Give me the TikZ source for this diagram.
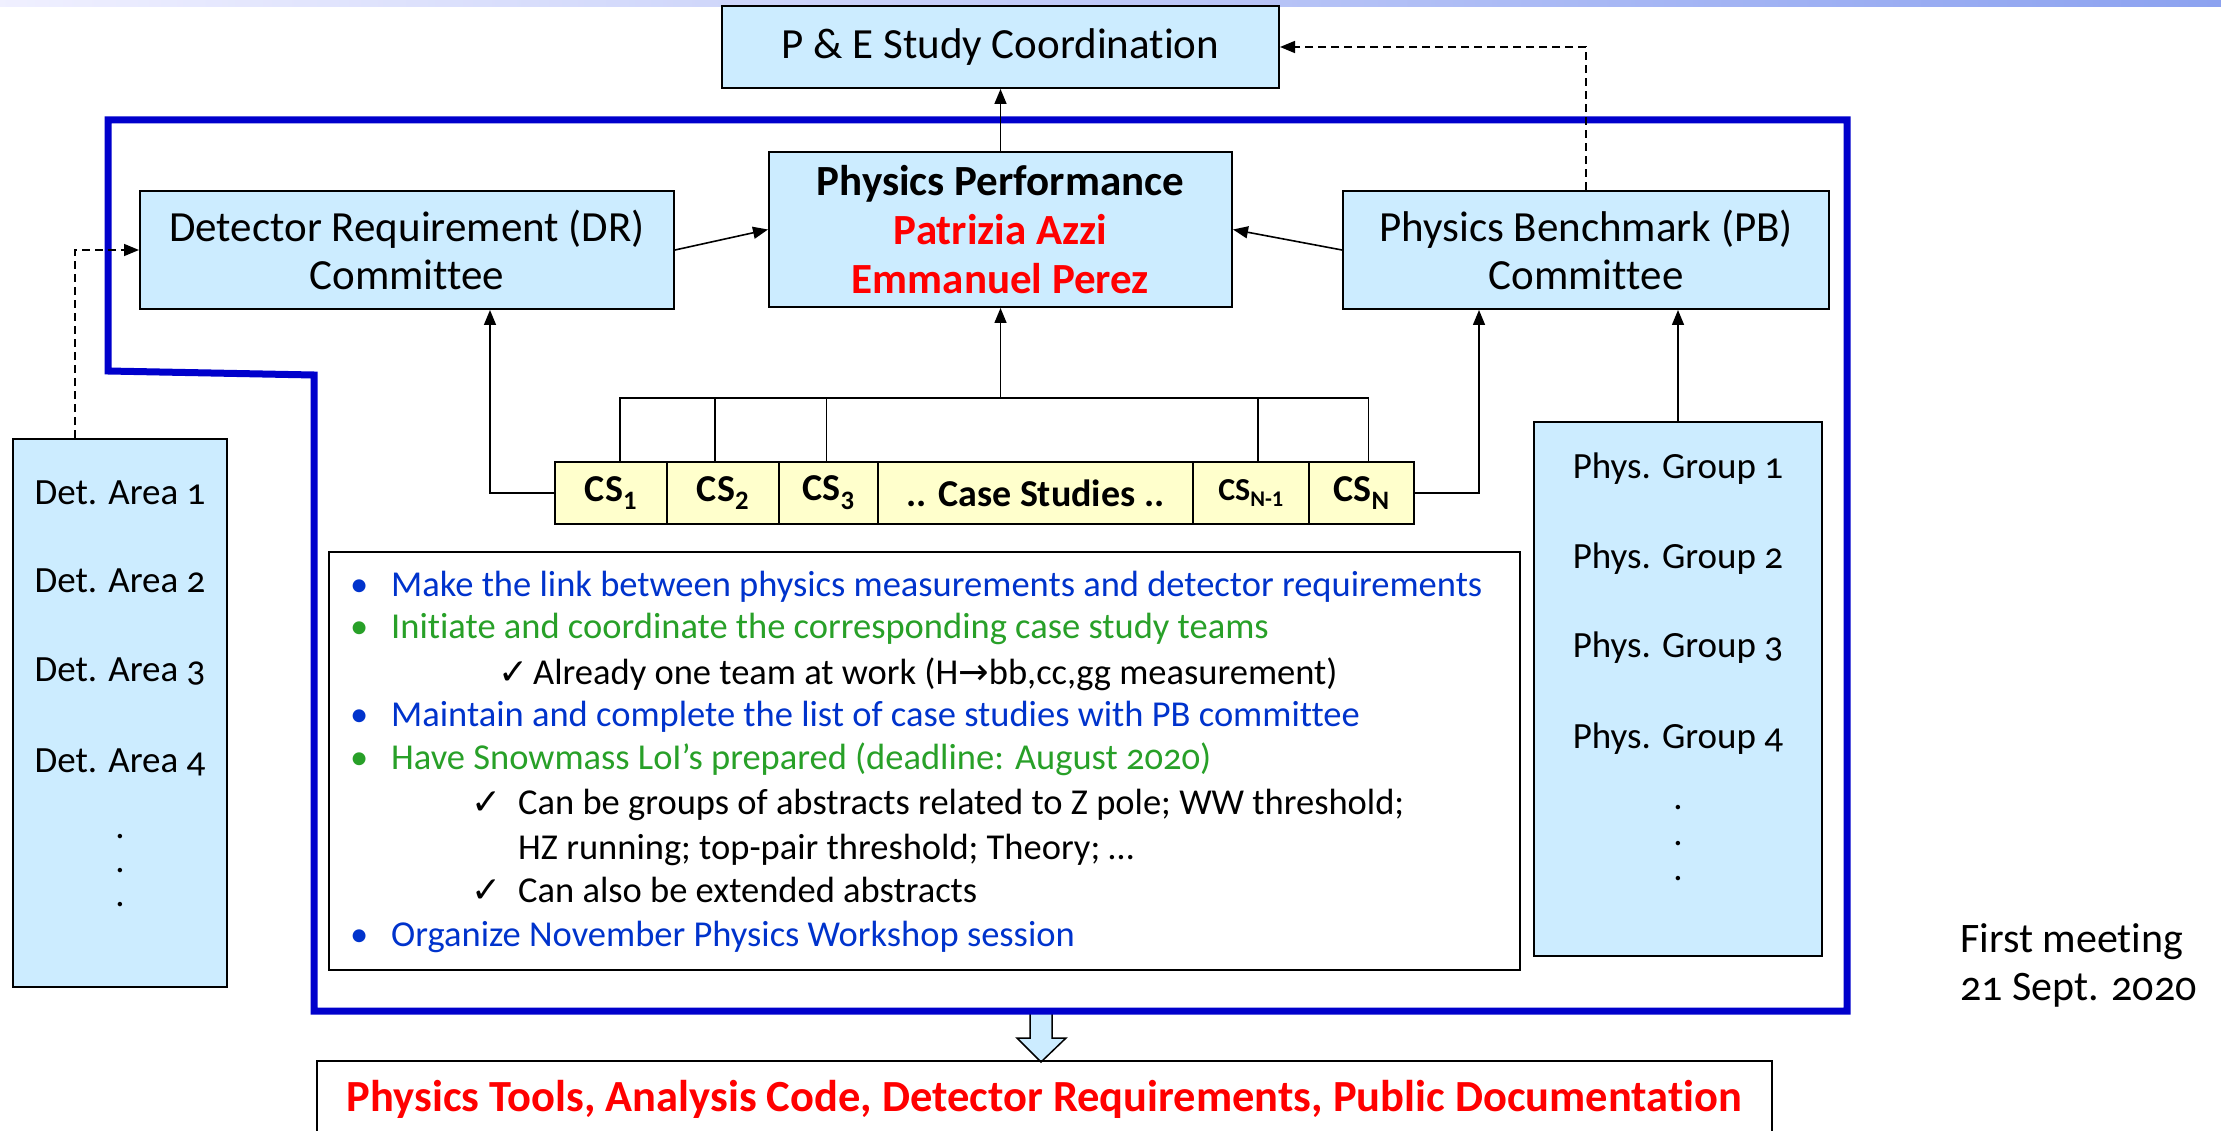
\documentclass[tikz,border=0pt]{standalone}
\usepackage{fontspec}
\setmainfont{Carlito}[Numbers=OldStyle,Ligatures=NoCommon]
\newfontfamily\symfont{DejaVu Sans}
\usepackage{xcolor}
\usepackage{tikz}
\usetikzlibrary{positioning,arrows.meta}

\definecolor{boxblue}{RGB}{204,236,255}
\definecolor{csyellow}{RGB}{255,255,204}
\definecolor{frameblue}{RGB}{0,0,204}
\definecolor{itemblue}{RGB}{0,51,204}
\definecolor{itemgreen}{RGB}{40,160,40}
\definecolor{namered}{RGB}{255,0,0}
\definecolor{stripblue}{RGB}{140,162,240}

\newcommand{\chk}{{\symfont\fontsize{36}{38}\selectfont ✓}}

\begin{document}
\begin{tikzpicture}[x=1pt,y=-1pt,
  box/.style={draw,line width=2pt,fill=boxblue,align=center,inner sep=0pt,font=\fontsize{43}{48}\selectfont},
  csbox/.style={draw,line width=2pt,fill=csyellow,inner sep=0pt,outer sep=0pt,minimum height=62pt,font=\fontsize{38}{40}\selectfont\bfseries\addfontfeatures{Numbers=Lining}},
  entry/.style={anchor=base,inner sep=0pt,font=\fontsize{37}{40}\selectfont},
  bulletline/.style={anchor=base west,inner sep=0pt,font=\fontsize{36.5}{40}\selectfont},
  arr/.style={line width=1.6pt,-{Triangle[length=15pt,width=12pt]}},
  dasharr/.style={arr,dash pattern=on 8pt off 5pt},
  blueframe/.style={draw=frameblue,line width=7pt,line join=miter}]
\useasboundingbox (0,0) rectangle (2221,1131);

% Title strip
\shade[left color=blue!6,right color=stripblue] (0,0) rectangle (2221,7);

% Output arrow and box
\draw[fill=boxblue,line width=1.5pt] (1030,1008) -- (1030,1038) -- (1017,1038) -- (1041,1062)
  -- (1066,1038) -- (1052,1038) -- (1052,1008);
\node[draw,line width=2pt,minimum width=1455pt,minimum height=76pt,anchor=north,
  text=namered,font=\fontsize{44.5}{46}\selectfont\bfseries] (out) at (1044.5,1060)
  {Physics Tools, Analysis Code, Detector Requirements, Public Documentation};

% Blue frame
\draw[blueframe] (108,120) -- (1847,120) -- (1847,1011) -- (314,1011) -- (314,375) -- (108,371) -- cycle;

% Committees
\node[box,minimum width=557pt,minimum height=82pt] (pe) at (1000.5,47) {P \& E Study Coordination};
\node[box,minimum width=534pt,minimum height=118pt] (dr) at (407,250) {Detector Requirement (DR)\\Committee};
\node[box,minimum width=463pt,minimum height=155pt,font=\fontsize{43}{49}\selectfont\bfseries] (pp) at (1000.5,229.5)
  {Physics Performance\\\textcolor{namered}{Patrizia Azzi}\\\textcolor{namered}{Emmanuel Perez}};
\node[box,minimum width=486pt,minimum height=118pt] (pb) at (1586,250) {Physics Benchmark (PB)\\Committee};

% Detector areas
\node[box,minimum width=214pt,minimum height=548pt] (det) at (120,713) {};
\node[entry] (da1) at (120,504) {Det. Area 1};
\node[entry] (da2) at (120,592) {Det. Area 2};
\node[entry] (da3) at (120,681) {Det. Area 3};
\node[entry] (da4) at (120,772) {Det. Area 4};
\node[entry] (dd1) at (120,838) {.};
\node[entry] (dd2) at (120,872) {.};
\node[entry] (dd3) at (120,906) {.};

% Physics groups
\node[box,minimum width=288pt,minimum height=534pt] (pg) at (1678,689) {};
\node[entry] (pg1) at (1678,478) {Phys. Group 1};
\node[entry] (pg2) at (1678,568) {Phys. Group 2};
\node[entry] (pg3) at (1678,657) {Phys. Group 3};
\node[entry] (pg4) at (1678,748) {Phys. Group 4};
\node[entry] (pd1) at (1678,809) {.};
\node[entry] (pd2) at (1678,845) {.};
\node[entry] (pd3) at (1678,880) {.};

% Case studies
\node[csbox,minimum width=112pt,anchor=west] (cs1) at (555,493) {CS\textsubscript{1}};
\node[csbox,minimum width=112pt,right=0pt of cs1] (cs2) {CS\textsubscript{2}};
\node[csbox,minimum width=99pt,right=0pt of cs2] (cs3) {CS\textsubscript{3}};
\node[csbox,minimum width=315pt,right=0pt of cs3] (csdots) {.. Case Studies ..};
\node[csbox,minimum width=116pt,right=0pt of csdots,font=\fontsize{32}{34}\selectfont\bfseries\addfontfeatures{Numbers=Lining}] (csm) {CS\textsubscript{N-1}};
\node[csbox,minimum width=105pt,right=0pt of csm] (csn) {CS\textsubscript{N}};

% Connections
\coordinate (csbar) at (pp.south |- 0,398);
\draw[line width=1.6pt] ([xshift=9pt]cs1.north) |- (csbar);
\draw[line width=1.6pt] ([xshift=-8pt]cs2.north) |- (csbar);
\draw[line width=1.6pt] ([xshift=-2pt]cs3.north) |- (csbar);
\draw[line width=1.6pt] ([xshift=7pt]csm.north) |- (csbar);
\draw[line width=1.6pt] ([xshift=7pt]csn.north) |- (csbar);
\draw[arr] (csbar) -- (pp.south);
\draw[arr] (cs1.west) -| ([xshift=83pt]dr.south);
\draw[arr] (csn.east) -| ([xshift=-107pt]pb.south);
\draw[arr] (pg.north) -- (pg.north |- pb.south);
\draw[arr] (dr.east) -- (pp.west);
\draw[arr] (pb.west) -- (pp.east);
\draw[arr] (pp.north) -- (pe.south);
\draw[dasharr] (pb.north) |- (pe.east);
\draw[dasharr] ([xshift=-45pt]det.north) |- (dr.west);

% Mandate
\node[draw,line width=2pt,minimum width=1191pt,minimum height=418pt] (notes) at (924.5,761) {};
\node[bulletline,text=itemblue] (l1) at (350,596) {\makebox[41pt][l]{•}Make the link between physics measurements and detector requirements};
\node[bulletline,text=itemgreen] (l2) at (350,638) {\makebox[41pt][l]{•}Initiate and coordinate the corresponding case study teams};
\node[bulletline] (l3) at (498,684) {\makebox[35pt][l]{\chk}Already one team at work (H{\symfont →}bb,cc,gg measurement)};
\node[bulletline,text=itemblue] (l4) at (350,726) {\makebox[41pt][l]{•}Maintain and complete the list of case studies with PB committee};
\node[bulletline,text=itemgreen] (l5) at (350,769) {\makebox[41pt][l]{•}Have Snowmass LoI’s prepared (deadline: August 2020)};
\node[bulletline] (l6) at (471,814) {\makebox[47pt][l]{\chk}Can be groups of abstracts related to Z pole; WW threshold;};
\node[bulletline] (l7) at (518,859) {HZ running; top-pair threshold; Theory; …};
\node[bulletline] (l8) at (471,902) {\makebox[47pt][l]{\chk}Can also be extended abstracts};
\node[bulletline,text=itemblue] (l9) at (350,946) {\makebox[41pt][l]{•}Organize November Physics Workshop session};

% Date
\node[anchor=base west,inner sep=0pt,font=\fontsize{42}{48}\selectfont] (meet1) at (1960,952) {First meeting};
\node[anchor=base west,inner sep=0pt,font=\fontsize{42}{48}\selectfont] (meet2) at (1960,1000) {21 Sept. 2020};
\end{tikzpicture}
\end{document}
